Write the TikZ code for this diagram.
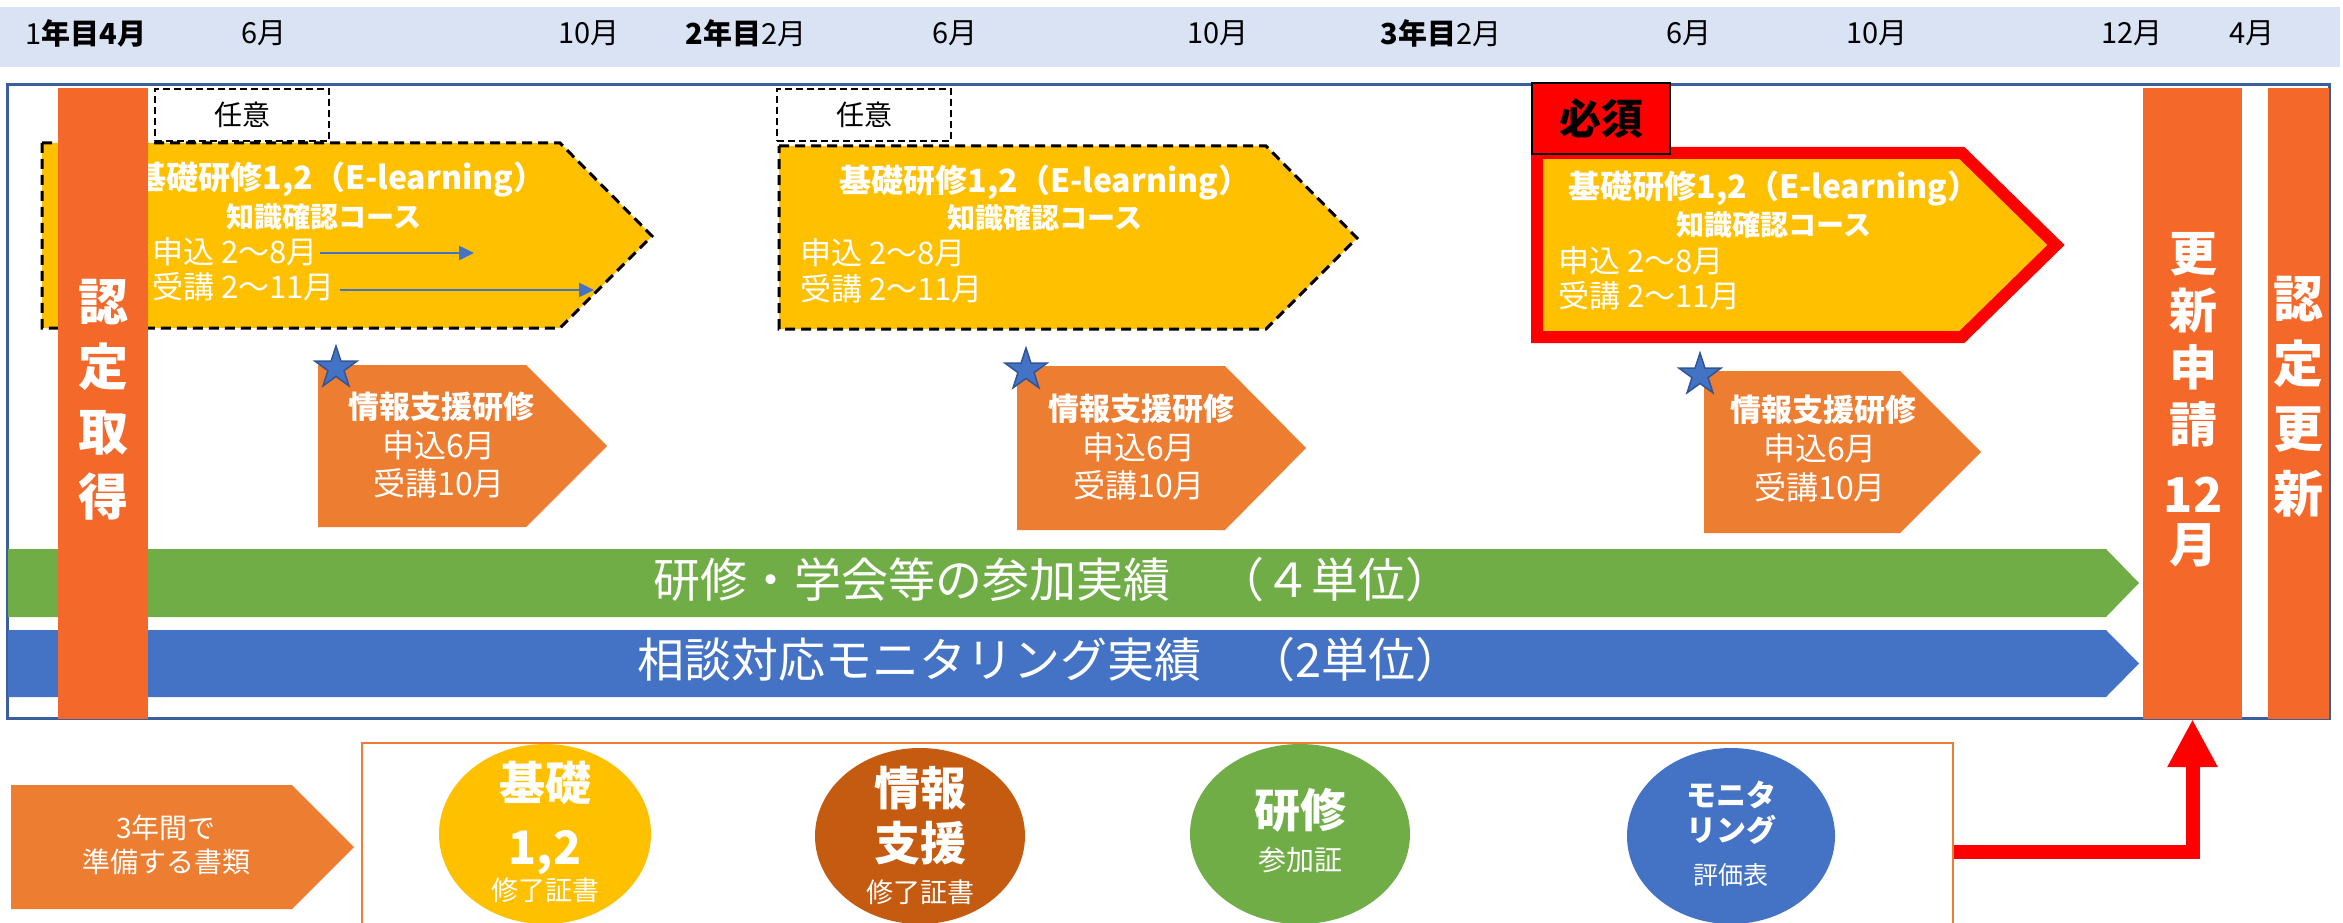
\documentclass[tikz,border=0pt]{standalone}
\usepackage{fontspec}
\setmainfont{Noto Sans CJK JP}
\usetikzlibrary{shapes.geometric,arrows.meta}
\definecolor{band}{HTML}{DAE3F3}
\definecolor{framec}{HTML}{3B5E9E}
\definecolor{cyellow}{HTML}{FFC000}
\definecolor{corange}{HTML}{ED7D31}
\definecolor{cbar}{HTML}{F4692A}
\definecolor{cgreen}{HTML}{70AD47}
\definecolor{cblue}{HTML}{4472C4}
\definecolor{cbrown}{HTML}{C55A11}
\definecolor{stardark}{HTML}{2F5597}
\newcommand\myfs[2]{\fontsize{#1}{#2}\selectfont}
\begin{document}
\begin{tikzpicture}[x=1pt,y=-1pt,
  hdr/.style={font=\myfs{29}{32}, inner sep=0, text=black},
  wt/.style={text=white, inner sep=0},
  ttl/.style={wt, font=\bfseries\myfs{32}{36}},
  sub/.style={wt, font=\bfseries\myfs{28}{32}},
  ln/.style={wt, font=\myfs{31}{34}, anchor=west},
  yarrow/.style={fill=cyellow, draw=black, line width=3pt, dash pattern=on 10pt off 6pt},
  optbox/.style={draw=black, line width=2pt, dash pattern=on 7pt off 4pt, minimum width=174pt, minimum height=52pt, inner sep=0, font=\myfs{28}{30}},
  penta/.style={fill=corange},
  ptitle/.style={wt, font=\bfseries\myfs{31}{34}},
  pline/.style={wt, font=\myfs{32}{34}},
  starn/.style={star, star points=5, star point ratio=2.6, fill=cblue, draw=stardark, line width=1.5pt, minimum size=44pt, inner sep=0},
  barrow/.style={draw=cblue, line width=2.5pt, -{Triangle[length=15pt,width=14pt]}},
  obar/.style={fill=cbar, inner sep=0},
  vtxt/.style={wt, align=center},
  ell/.style={ellipse, inner sep=0},
  bigt/.style={wt, font=\bfseries\myfs{46}{50}},
  smallt/.style={wt, font=\myfs{27}{30}}
]
\useasboundingbox (0,0) rectangle (2343,923);
\fill[white] (0,0) rectangle (2343,923);

% header band
\fill[band] (0,7) rectangle (2340,67);
\node[hdr] (h1) at (86,33) {1\textbf{年目4月}};
\node[hdr] (h2) at (264,33) {6月};
\node[hdr] (h3) at (589,33) {10月};
\node[hdr] (h4) at (746,33) {\textbf{2年目}2月};
\node[hdr] (h5) at (955,33) {6月};
\node[hdr] (h6) at (1218,33) {10月};
\node[hdr] (h7) at (1441,33) {\textbf{3年目}2月};
\node[hdr] (h8) at (1689,33) {6月};
\node[hdr] (h9) at (1877,33) {10月};
\node[hdr] (h10) at (2132,33) {12月};
\node[hdr] (h11) at (2252,33) {4月};

% frame
\draw[framec, line width=3pt] (7,85) rectangle (2329,718);

% yellow arrows
\draw[yarrow] (42,143) -- (560,143) -- (652,236) -- (560,328) -- (42,328) -- cycle;
\draw[yarrow] (779,146) -- (1266,146) -- (1357,238) -- (1266,329) -- (779,329) -- cycle;
\draw[fill=cyellow, draw=red, line width=12pt, miter limit=10] (1537,153) -- (1962,153) -- (2056,245) -- (1962,337) -- (1537,337) -- cycle;

\node[optbox] (opt1) at (242,115) {任意};
\node[optbox] (opt2) at (864,115) {任意};
\node[draw=black, fill=red, line width=2pt, minimum width=138pt, minimum height=71pt, inner sep=0, font=\bfseries\myfs{42}{46}] (must) at (1601,118.5) {必須};

% texts of yellow arrows
\node[ttl] (t1) at (340,180) {基礎研修1,2（E-learning）};
\node[sub] (k1) at (324,217) {知識確認コース};
\node[ln] (m1) at (152,252) {申込 2～8月};
\node[ln] (u1) at (152,287) {受講 2～11月};
\coordinate (a1s) at (320,253);
\coordinate (a1e) at (474,253);
\coordinate (a2s) at (340,290);
\coordinate (a2e) at (594,290);
\draw[barrow] (a1s) -- (a1e);
\draw[barrow] (a2s) -- (a2e);

\node[ttl] (t2) at (1045,183) {基礎研修1,2（E-learning）};
\node[sub] (k2) at (1045,218) {知識確認コース};
\node[ln] (m2) at (800,253) {申込 2～8月};
\node[ln] (u2) at (800,289) {受講 2～11月};

\node[ttl] (t3) at (1774,189) {基礎研修1,2（E-learning）};
\node[sub] (k3) at (1774,225) {知識確認コース};
\node[ln] (m3) at (1558,261) {申込 2～8月};
\node[ln] (u3) at (1558,296) {受講 2～11月};

% orange pentagons
\fill[penta] (318,365) -- (526,365) -- (607,446) -- (526,527) -- (318,527) -- cycle;
\fill[penta] (1017,366) -- (1225,366) -- (1306,448) -- (1225,530) -- (1017,530) -- cycle;
\fill[penta] (1704,371) -- (1900,371) -- (1981,452) -- (1900,533) -- (1704,533) -- cycle;
\node[ptitle] (j1) at (441,407) {情報支援研修};
\node[pline] (j1a) at (439,445) {申込6月};
\node[pline] (j1b) at (439,483) {受講10月};
\node[ptitle] (j2) at (1141,409) {情報支援研修};
\node[pline] (j2a) at (1139,447) {申込6月};
\node[pline] (j2b) at (1139,485) {受講10月};
\node[ptitle] (j3) at (1823,410) {情報支援研修};
\node[pline] (j3a) at (1820,448) {申込6月};
\node[pline] (j3b) at (1820,487) {受講10月};
\node[starn] (s1) at (336,368) {};
\node[starn] (s2) at (1026,370) {};
\node[starn] (s3) at (1700,375) {};

% green and blue bars
\fill[cgreen] (8,549) -- (2106,549) -- (2139,583) -- (2106,617) -- (8,617) -- cycle;
\fill[cblue] (8,630) -- (2106,630) -- (2139,663.5) -- (2106,697) -- (8,697) -- cycle;
\node[wt, font=\myfs{47}{50}] (g1) at (1053,580) {研修・学会等の参加実績　（４単位）};
\node[wt, font=\myfs{47}{50}] (b1) at (1050,660) {相談対応モニタリング実績　（2単位）};

% vertical bars
\node[obar, minimum width=90pt, minimum height=631pt] (nintei) at (103,403.5) {};
\node[vtxt, font=\bfseries\myfs{50}{65}] (nt) at (103,400) {認\\定\\取\\得};
\node[obar, minimum width=99pt, minimum height=631pt] (renew) at (2192.5,403.5) {};
\node[vtxt, font=\bfseries\myfs{48}{57}] (rt) at (2193,400) {更\\新\\申\\請\\[13pt]12\\[-7pt]月};
\node[obar, minimum width=61pt, minimum height=631pt] (koshin) at (2298.5,403.5) {};
\node[vtxt, font=\bfseries\myfs{50}{65}] (kt) at (2298,397) {認\\定\\更\\新};

% bottom
\fill[penta] (11,785) -- (292,785) -- (354,847) -- (292,909) -- (11,909) -- cycle;
\node[wt, align=center, font=\myfs{28}{34}] (prep) at (166,845) {3年間で\\準備する書類};
\node[draw=corange, line width=2.5pt, minimum width=1591pt, minimum height=217pt, inner sep=0] (docs) at (1157.5,851.5) {};

\node[ell, fill=cyellow, minimum width=212pt, minimum height=180pt] (e1) at (545,834) {};
\node[ell, fill=cbrown, minimum width=210pt, minimum height=176pt] (e2) at (920,836) {};
\node[ell, fill=cgreen, minimum width=220pt, minimum height=180pt] (e3) at (1300,834) {};
\node[ell, fill=cblue, minimum width=208pt, minimum height=176pt] (e4) at (1731,836) {};

\node[bigt] (e1a) at (545,783) {基礎};
\node[bigt] (e1b) at (545,853) {1,2};
\node[smallt] (e1c) at (545,890) {修了証書};
\node[bigt] (e2a) at (920,788) {情報};
\node[bigt] (e2b) at (920,843) {支援};
\node[smallt] (e2c) at (920,892) {修了証書};
\node[bigt] (e3a) at (1300,810) {研修};
\node[wt, font=\myfs{28}{30}] (e3b) at (1300,860) {参加証};
\node[wt, font=\bfseries\myfs{30}{34}] (e4a) at (1731,795) {モニタ};
\node[wt, font=\bfseries\myfs{30}{34}] (e4b) at (1731,830) {リング};
\node[wt, font=\myfs{25}{28}] (e4c) at (1731,875) {評価表};

\draw[red, line width=14pt, -{Triangle[length=48pt,width=47pt]}] (docs.east) -| (renew.south);
\end{tikzpicture}
\end{document}
